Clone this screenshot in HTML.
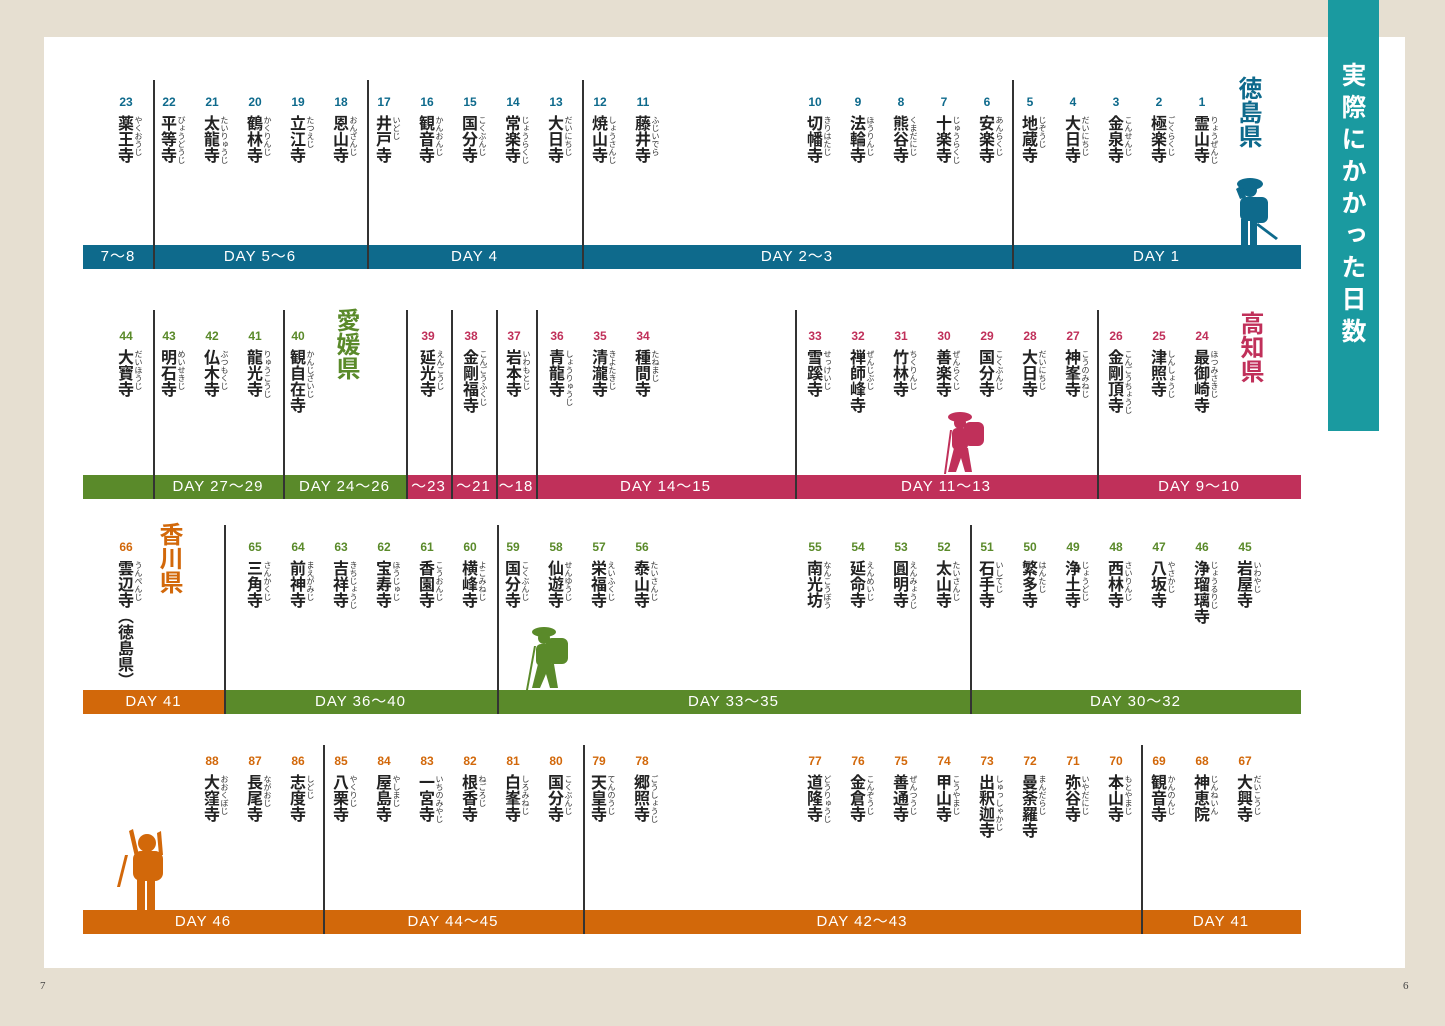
<!DOCTYPE html>
<html><head><meta charset="utf-8"><style>
body{margin:0;width:1445px;height:1026px;background:#e6dfd1;position:relative;overflow:hidden;font-family:"Liberation Sans","Noto Sans CJK JP",sans-serif}
.pg{position:absolute;left:44px;top:37px;width:1361px;height:931px;background:#fff}
.t{position:absolute;width:40px;height:200px}
.t b{display:block;text-align:center;font:bold 12px "Liberation Sans",sans-serif;height:16px}
.n{position:absolute;left:11px;top:20px;writing-mode:vertical-rl;white-space:nowrap;height:180px;font-size:16px;line-height:18px;color:#222;font-weight:bold;font-family:"Noto Sans CJK JP",sans-serif}
.f{position:absolute;left:28px;top:21px;writing-mode:vertical-rl;white-space:nowrap;height:180px;font-size:8px;line-height:9px;color:#333;font-family:"Noto Sans CJK JP",sans-serif}
.v{position:absolute;width:1.5px;background:#333;z-index:2}
.bar{position:absolute;height:24px;color:#fff;font-size:15px;letter-spacing:1px;text-align:center;line-height:24px;font-family:"Liberation Sans","Noto Sans CJK JP",sans-serif}
.pref{position:absolute;writing-mode:vertical-rl;white-space:nowrap;height:100px;font-size:24px;font-weight:bold;line-height:28px;font-family:"Noto Sans CJK JP",sans-serif}
.B{color:#0e6a8c}.R{color:#c0305a}.G{color:#5a8a2a}.O{color:#d2680a}
</style></head><body>
<div class="pg"></div>
<div style="position:absolute;left:1328px;top:0;width:51px;height:431px;background:#1a9aa0"></div>
<div style="position:absolute;left:1328px;top:62px;width:51px;height:360px;white-space:nowrap;writing-mode:vertical-rl;color:#fff;font-size:25px;font-weight:bold;letter-spacing:7px;line-height:51px;font-family:'Noto Sans CJK JP',sans-serif">実際にかかった日数</div>
<div style="position:absolute;left:40px;top:980px;font:11px 'Liberation Serif',serif;color:#444">7</div>
<div style="position:absolute;left:1403px;top:980px;font:11px 'Liberation Serif',serif;color:#444">6</div>

<!-- Row 1 -->
<div class="v" style="left:153px;top:80px;height:189px"></div>
<div class="v" style="left:367px;top:80px;height:189px"></div>
<div class="v" style="left:582px;top:80px;height:189px"></div>
<div class="v" style="left:1012px;top:80px;height:189px"></div>
<div class="bar" style="left:83px;top:245px;width:1218px;background:#0e6a8c"></div>
<div class="bar" style="left:83px;top:245px;width:70px">7〜8</div>
<div class="bar" style="left:153px;top:245px;width:214px">DAY 5〜6</div>
<div class="bar" style="left:367px;top:245px;width:215px">DAY 4</div>
<div class="bar" style="left:582px;top:245px;width:430px">DAY 2〜3</div>
<div class="bar" style="left:1012px;top:245px;width:289px">DAY 1</div>
<div class="pref B" style="left:1236px;top:76px">徳島県</div>
<svg style="position:absolute;left:1228px;top:175px" width="55" height="72"><g fill="#0e6a8c"><ellipse cx="22" cy="9" rx="13" ry="6"/><circle cx="22" cy="15" r="7"/><path d="M8 14 L14 10 L18 22 L12 24Z"/><rect x="12" y="22" width="22" height="24" rx="6"/><rect x="24" y="22" width="16" height="26" rx="6"/><rect x="13" y="44" width="7" height="26"/><rect x="22" y="44" width="7" height="26"/><path d="M30 48 L50 63 L48 65 L28 50Z"/></g></svg>
<div class="t B" style="left:106px;top:95px"><b>23</b><span class="n">薬王寺</span><span class="f">やくおうじ</span></div>
<div class="t B" style="left:149px;top:95px"><b>22</b><span class="n">平等寺</span><span class="f">びょうどうじ</span></div>
<div class="t B" style="left:192px;top:95px"><b>21</b><span class="n">太龍寺</span><span class="f">たいりゅうじ</span></div>
<div class="t B" style="left:235px;top:95px"><b>20</b><span class="n">鶴林寺</span><span class="f">かくりんじ</span></div>
<div class="t B" style="left:278px;top:95px"><b>19</b><span class="n">立江寺</span><span class="f">たつえじ</span></div>
<div class="t B" style="left:321px;top:95px"><b>18</b><span class="n">恩山寺</span><span class="f">おんざんじ</span></div>
<div class="t B" style="left:364px;top:95px"><b>17</b><span class="n">井戸寺</span><span class="f">いどじ</span></div>
<div class="t B" style="left:407px;top:95px"><b>16</b><span class="n">観音寺</span><span class="f">かんおんじ</span></div>
<div class="t B" style="left:450px;top:95px"><b>15</b><span class="n">国分寺</span><span class="f">こくぶんじ</span></div>
<div class="t B" style="left:493px;top:95px"><b>14</b><span class="n">常楽寺</span><span class="f">じょうらくじ</span></div>
<div class="t B" style="left:536px;top:95px"><b>13</b><span class="n">大日寺</span><span class="f">だいにちじ</span></div>
<div class="t B" style="left:580px;top:95px"><b>12</b><span class="n">焼山寺</span><span class="f">しょうさんじ</span></div>
<div class="t B" style="left:623px;top:95px"><b>11</b><span class="n">藤井寺</span><span class="f">ふじいでら</span></div>
<div class="t B" style="left:795px;top:95px"><b>10</b><span class="n">切幡寺</span><span class="f">きりはたじ</span></div>
<div class="t B" style="left:838px;top:95px"><b>9</b><span class="n">法輪寺</span><span class="f">ほうりんじ</span></div>
<div class="t B" style="left:881px;top:95px"><b>8</b><span class="n">熊谷寺</span><span class="f">くまだにじ</span></div>
<div class="t B" style="left:924px;top:95px"><b>7</b><span class="n">十楽寺</span><span class="f">じゅうらくじ</span></div>
<div class="t B" style="left:967px;top:95px"><b>6</b><span class="n">安楽寺</span><span class="f">あんらくじ</span></div>
<div class="t B" style="left:1010px;top:95px"><b>5</b><span class="n">地蔵寺</span><span class="f">じぞうじ</span></div>
<div class="t B" style="left:1053px;top:95px"><b>4</b><span class="n">大日寺</span><span class="f">だいにちじ</span></div>
<div class="t B" style="left:1096px;top:95px"><b>3</b><span class="n">金泉寺</span><span class="f">こんせんじ</span></div>
<div class="t B" style="left:1139px;top:95px"><b>2</b><span class="n">極楽寺</span><span class="f">ごくらくじ</span></div>
<div class="t B" style="left:1182px;top:95px"><b>1</b><span class="n">霊山寺</span><span class="f">りょうぜんじ</span></div>

<!-- Row 2 -->
<div class="v" style="left:153px;top:310px;height:189px"></div>
<div class="v" style="left:283px;top:310px;height:189px"></div>
<div class="v" style="left:406px;top:310px;height:189px"></div>
<div class="v" style="left:451px;top:310px;height:189px"></div>
<div class="v" style="left:496px;top:310px;height:189px"></div>
<div class="v" style="left:536px;top:310px;height:189px"></div>
<div class="v" style="left:795px;top:310px;height:189px"></div>
<div class="v" style="left:1097px;top:310px;height:189px"></div>
<div class="bar" style="left:83px;top:475px;width:323px;background:#5a8a2a"></div>
<div class="bar" style="left:406px;top:475px;width:895px;background:#c0305a"></div>
<div class="bar" style="left:153px;top:475px;width:130px">DAY 27〜29</div>
<div class="bar" style="left:283px;top:475px;width:123px">DAY 24〜26</div>
<div class="bar" style="left:406px;top:475px;width:45px">〜23</div>
<div class="bar" style="left:451px;top:475px;width:45px">〜21</div>
<div class="bar" style="left:496px;top:475px;width:40px">〜18</div>
<div class="bar" style="left:536px;top:475px;width:259px">DAY 14〜15</div>
<div class="bar" style="left:795px;top:475px;width:302px">DAY 11〜13</div>
<div class="bar" style="left:1097px;top:475px;width:204px">DAY 9〜10</div>
<div class="pref G" style="left:334px;top:308px">愛媛県</div>
<div class="pref R" style="left:1238px;top:311px">高知県</div>
<svg style="position:absolute;left:938px;top:408px" width="55" height="68"><g fill="#c0305a"><ellipse cx="22" cy="9" rx="12" ry="5"/><circle cx="22" cy="15" r="6"/><rect x="26" y="14" width="20" height="24" rx="6"/><rect x="14" y="20" width="16" height="22" rx="5"/><path d="M16 40 L30 40 L34 64 L27 64 L23 50 L18 64 L10 64Z"/><path d="M12 22 L14 22 L8 66 L6 66Z"/></g></svg>
<div class="t G" style="left:106px;top:329px"><b>44</b><span class="n">大寶寺</span><span class="f">だいほうじ</span></div>
<div class="t G" style="left:149px;top:329px"><b>43</b><span class="n">明石寺</span><span class="f">めいせきじ</span></div>
<div class="t G" style="left:192px;top:329px"><b>42</b><span class="n">仏木寺</span><span class="f">ぶつもくじ</span></div>
<div class="t G" style="left:235px;top:329px"><b>41</b><span class="n">龍光寺</span><span class="f">りゅうこうじ</span></div>
<div class="t G" style="left:278px;top:329px"><b>40</b><span class="n">観自在寺</span><span class="f">かんじざいじ</span></div>
<div class="t R" style="left:408px;top:329px"><b>39</b><span class="n">延光寺</span><span class="f">えんこうじ</span></div>
<div class="t R" style="left:451px;top:329px"><b>38</b><span class="n">金剛福寺</span><span class="f">こんごうふくじ</span></div>
<div class="t R" style="left:494px;top:329px"><b>37</b><span class="n">岩本寺</span><span class="f">いわもとじ</span></div>
<div class="t R" style="left:537px;top:329px"><b>36</b><span class="n">青龍寺</span><span class="f">しょうりゅうじ</span></div>
<div class="t R" style="left:580px;top:329px"><b>35</b><span class="n">清瀧寺</span><span class="f">きよたきじ</span></div>
<div class="t R" style="left:623px;top:329px"><b>34</b><span class="n">種間寺</span><span class="f">たねまじ</span></div>
<div class="t R" style="left:795px;top:329px"><b>33</b><span class="n">雪蹊寺</span><span class="f">せっけいじ</span></div>
<div class="t R" style="left:838px;top:329px"><b>32</b><span class="n">禅師峰寺</span><span class="f">ぜんじぶじ</span></div>
<div class="t R" style="left:881px;top:329px"><b>31</b><span class="n">竹林寺</span><span class="f">ちくりんじ</span></div>
<div class="t R" style="left:924px;top:329px"><b>30</b><span class="n">善楽寺</span><span class="f">ぜんらくじ</span></div>
<div class="t R" style="left:967px;top:329px"><b>29</b><span class="n">国分寺</span><span class="f">こくぶんじ</span></div>
<div class="t R" style="left:1010px;top:329px"><b>28</b><span class="n">大日寺</span><span class="f">だいにちじ</span></div>
<div class="t R" style="left:1053px;top:329px"><b>27</b><span class="n">神峯寺</span><span class="f">こうのみねじ</span></div>
<div class="t R" style="left:1096px;top:329px"><b>26</b><span class="n">金剛頂寺</span><span class="f">こんごうちょうじ</span></div>
<div class="t R" style="left:1139px;top:329px"><b>25</b><span class="n">津照寺</span><span class="f">しんしょうじ</span></div>
<div class="t R" style="left:1182px;top:329px"><b>24</b><span class="n">最御崎寺</span><span class="f">ほつみさきじ</span></div>

<!-- Row 3 -->
<div class="v" style="left:224px;top:525px;height:189px"></div>
<div class="v" style="left:497px;top:525px;height:189px"></div>
<div class="v" style="left:970px;top:525px;height:189px"></div>
<div class="bar" style="left:83px;top:690px;width:141px;background:#d2680a">DAY 41</div>
<div class="bar" style="left:224px;top:690px;width:1077px;background:#5a8a2a"></div>
<div class="bar" style="left:224px;top:690px;width:273px">DAY 36〜40</div>
<div class="bar" style="left:497px;top:690px;width:473px">DAY 33〜35</div>
<div class="bar" style="left:970px;top:690px;width:331px">DAY 30〜32</div>
<div class="pref O" style="left:157px;top:522px">香川県</div>
<svg style="position:absolute;left:522px;top:624px" width="55" height="68"><g fill="#5a8a2a"><ellipse cx="22" cy="8" rx="12" ry="5"/><circle cx="22" cy="14" r="6"/><rect x="24" y="14" width="22" height="26" rx="6"/><rect x="14" y="20" width="16" height="22" rx="5"/><path d="M16 40 L32 40 L36 64 L28 64 L24 50 L18 64 L10 64Z"/><path d="M12 22 L14 22 L6 66 L4 66Z"/></g></svg>
<div class="t O" style="left:106px;top:540px"><b>66</b><span class="n">雲辺寺（徳島県）</span><span class="f">うんぺんじ</span></div>
<div class="t G" style="left:235px;top:540px"><b>65</b><span class="n">三角寺</span><span class="f">さんかくじ</span></div>
<div class="t G" style="left:278px;top:540px"><b>64</b><span class="n">前神寺</span><span class="f">まえがみじ</span></div>
<div class="t G" style="left:321px;top:540px"><b>63</b><span class="n">吉祥寺</span><span class="f">きちじょうじ</span></div>
<div class="t G" style="left:364px;top:540px"><b>62</b><span class="n">宝寿寺</span><span class="f">ほうじゅじ</span></div>
<div class="t G" style="left:407px;top:540px"><b>61</b><span class="n">香園寺</span><span class="f">こうおんじ</span></div>
<div class="t G" style="left:450px;top:540px"><b>60</b><span class="n">横峰寺</span><span class="f">よこみねじ</span></div>
<div class="t G" style="left:493px;top:540px"><b>59</b><span class="n">国分寺</span><span class="f">こくぶんじ</span></div>
<div class="t G" style="left:536px;top:540px"><b>58</b><span class="n">仙遊寺</span><span class="f">せんゆうじ</span></div>
<div class="t G" style="left:579px;top:540px"><b>57</b><span class="n">栄福寺</span><span class="f">えいふくじ</span></div>
<div class="t G" style="left:622px;top:540px"><b>56</b><span class="n">泰山寺</span><span class="f">たいさんじ</span></div>
<div class="t G" style="left:795px;top:540px"><b>55</b><span class="n">南光坊</span><span class="f">なんこうぼう</span></div>
<div class="t G" style="left:838px;top:540px"><b>54</b><span class="n">延命寺</span><span class="f">えんめいじ</span></div>
<div class="t G" style="left:881px;top:540px"><b>53</b><span class="n">圓明寺</span><span class="f">えんみょうじ</span></div>
<div class="t G" style="left:924px;top:540px"><b>52</b><span class="n">太山寺</span><span class="f">たいさんじ</span></div>
<div class="t G" style="left:967px;top:540px"><b>51</b><span class="n">石手寺</span><span class="f">いしてじ</span></div>
<div class="t G" style="left:1010px;top:540px"><b>50</b><span class="n">繁多寺</span><span class="f">はんたじ</span></div>
<div class="t G" style="left:1053px;top:540px"><b>49</b><span class="n">浄土寺</span><span class="f">じょうどじ</span></div>
<div class="t G" style="left:1096px;top:540px"><b>48</b><span class="n">西林寺</span><span class="f">さいりんじ</span></div>
<div class="t G" style="left:1139px;top:540px"><b>47</b><span class="n">八坂寺</span><span class="f">やさかじ</span></div>
<div class="t G" style="left:1182px;top:540px"><b>46</b><span class="n">浄瑠璃寺</span><span class="f">じょうるりじ</span></div>
<div class="t G" style="left:1225px;top:540px"><b>45</b><span class="n">岩屋寺</span><span class="f">いわやじ</span></div>

<!-- Row 4 -->
<div class="v" style="left:323px;top:745px;height:189px"></div>
<div class="v" style="left:583px;top:745px;height:189px"></div>
<div class="v" style="left:1141px;top:745px;height:189px"></div>
<div class="bar" style="left:83px;top:910px;width:1218px;background:#d2680a"></div>
<div class="bar" style="left:83px;top:910px;width:240px">DAY 46</div>
<div class="bar" style="left:323px;top:910px;width:260px">DAY 44〜45</div>
<div class="bar" style="left:583px;top:910px;width:558px">DAY 42〜43</div>
<div class="bar" style="left:1141px;top:910px;width:160px">DAY 41</div>
<svg style="position:absolute;left:115px;top:825px" width="55" height="88"><g fill="#d2680a"><circle cx="32" cy="18" r="9"/><rect x="18" y="26" width="30" height="30" rx="8"/><path d="M14 6 L18 4 L24 30 L20 32Z"/><path d="M42 8 L46 6 L48 30 L44 30Z"/><rect x="22" y="52" width="8" height="34"/><rect x="32" y="52" width="8" height="34"/><path d="M10 30 L13 30 L5 62 L2 62Z"/></g></svg>
<div class="t O" style="left:192px;top:754px"><b>88</b><span class="n">大窪寺</span><span class="f">おおくぼじ</span></div>
<div class="t O" style="left:235px;top:754px"><b>87</b><span class="n">長尾寺</span><span class="f">ながおじ</span></div>
<div class="t O" style="left:278px;top:754px"><b>86</b><span class="n">志度寺</span><span class="f">しどじ</span></div>
<div class="t O" style="left:321px;top:754px"><b>85</b><span class="n">八栗寺</span><span class="f">やくりじ</span></div>
<div class="t O" style="left:364px;top:754px"><b>84</b><span class="n">屋島寺</span><span class="f">やしまじ</span></div>
<div class="t O" style="left:407px;top:754px"><b>83</b><span class="n">一宮寺</span><span class="f">いちのみやじ</span></div>
<div class="t O" style="left:450px;top:754px"><b>82</b><span class="n">根香寺</span><span class="f">ねごろじ</span></div>
<div class="t O" style="left:493px;top:754px"><b>81</b><span class="n">白峯寺</span><span class="f">しろみねじ</span></div>
<div class="t O" style="left:536px;top:754px"><b>80</b><span class="n">国分寺</span><span class="f">こくぶんじ</span></div>
<div class="t O" style="left:579px;top:754px"><b>79</b><span class="n">天皇寺</span><span class="f">てんのうじ</span></div>
<div class="t O" style="left:622px;top:754px"><b>78</b><span class="n">郷照寺</span><span class="f">ごうしょうじ</span></div>
<div class="t O" style="left:795px;top:754px"><b>77</b><span class="n">道隆寺</span><span class="f">どうりゅうじ</span></div>
<div class="t O" style="left:838px;top:754px"><b>76</b><span class="n">金倉寺</span><span class="f">こんぞうじ</span></div>
<div class="t O" style="left:881px;top:754px"><b>75</b><span class="n">善通寺</span><span class="f">ぜんつうじ</span></div>
<div class="t O" style="left:924px;top:754px"><b>74</b><span class="n">甲山寺</span><span class="f">こうやまじ</span></div>
<div class="t O" style="left:967px;top:754px"><b>73</b><span class="n">出釈迦寺</span><span class="f">しゅっしゃかじ</span></div>
<div class="t O" style="left:1010px;top:754px"><b>72</b><span class="n">曼荼羅寺</span><span class="f">まんだらじ</span></div>
<div class="t O" style="left:1053px;top:754px"><b>71</b><span class="n">弥谷寺</span><span class="f">いやだにじ</span></div>
<div class="t O" style="left:1096px;top:754px"><b>70</b><span class="n">本山寺</span><span class="f">もとやまじ</span></div>
<div class="t O" style="left:1139px;top:754px"><b>69</b><span class="n">観音寺</span><span class="f">かんのんじ</span></div>
<div class="t O" style="left:1182px;top:754px"><b>68</b><span class="n">神恵院</span><span class="f">じんねいん</span></div>
<div class="t O" style="left:1225px;top:754px"><b>67</b><span class="n">大興寺</span><span class="f">だいこうじ</span></div>
</body></html>
